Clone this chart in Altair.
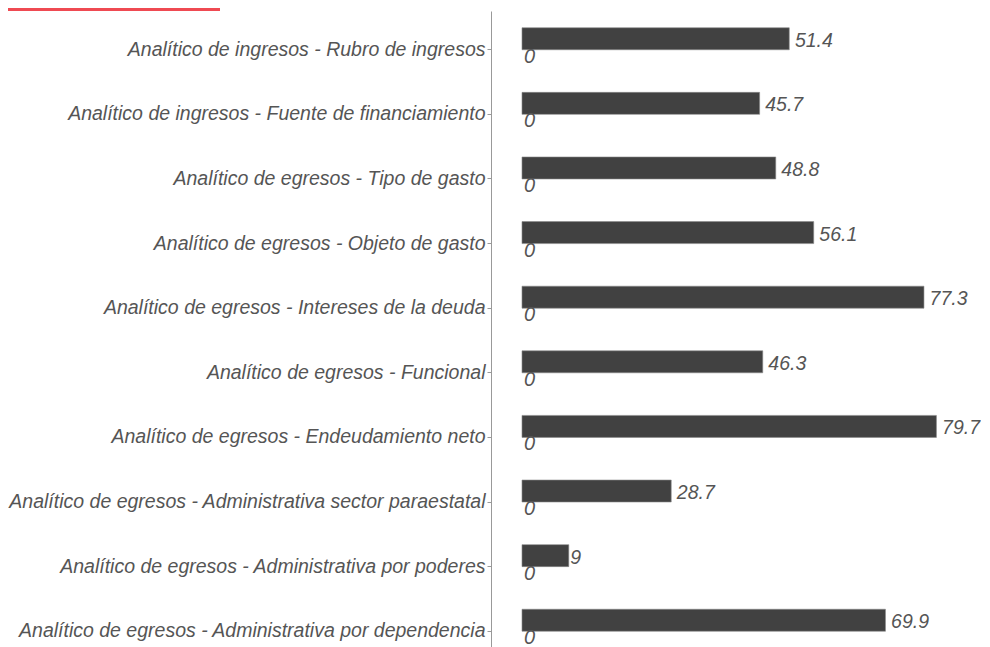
import altair as alt
import pandas as pd

categories = [
    "Analítico de ingresos - Rubro de ingresos",
    "Analítico de ingresos - Fuente de financiamiento",
    "Analítico de egresos - Tipo de gasto",
    "Analítico de egresos - Objeto de gasto",
    "Analítico de egresos - Intereses de la deuda",
    "Analítico de egresos - Funcional",
    "Analítico de egresos - Endeudamiento neto",
    "Analítico de egresos - Administrativa sector paraestatal",
    "Analítico de egresos - Administrativa por poderes",
    "Analítico de egresos - Administrativa por dependencia",
]
values = [51.4, 45.7, 48.8, 56.1, 77.3, 46.3, 79.7, 28.7, 9, 69.9]
zeros = [0] * len(categories)

df = pd.DataFrame({"cat": categories, "value": values, "zero": zeros})

FONT = "Liberation Sans, Arial, sans-serif"
TEXT_COLOR = "#555555"

yenc = alt.Y(
    "cat:N",
    sort=categories,
    title=None,
    scale=alt.Scale(range=[0, 659], paddingOuter=0.1, paddingInner=0),
    axis=alt.Axis(
        labelFont=FONT,
        labelFontSize=19.5,
        labelFontStyle="italic",
        labelColor=TEXT_COLOR,
        labelPadding=2,
        tickSize=4,
        tickColor="#999999",
        domainColor="#999999",
        domainWidth=1,
        labelLimit=600,
        grid=False,
    ),
)
xscale = alt.Scale(domain=[-5.96, 88.27], nice=False, zero=False)

base = alt.Chart(df)

bars = base.mark_bar(
    size=22, yOffset=-11, color="#414141", stroke="#8a8a8a", strokeWidth=0.6
).encode(
    x=alt.X("value:Q", scale=xscale, axis=None),
    x2=alt.X2("zero:Q"),
    y=yenc,
)

labels = base.transform_calculate(
    lx="datum.value + 0.27*length(format(datum.value, '.1~f'))"
).mark_text(
    align="left", baseline="middle", yOffset=-9, fontSize=19.5,
    fontStyle="italic", font=FONT, color=TEXT_COLOR,
).encode(
    x=alt.X("lx:Q", scale=xscale, axis=None),
    y=alt.Y("cat:N", sort=categories),
    text=alt.Text("value:Q", format=".1~f"),
)

zero_labels = base.mark_text(
    align="left", baseline="middle", yOffset=7, dx=2, fontSize=20,
    fontStyle="italic", font=FONT, color=TEXT_COLOR,
).encode(
    x=alt.X("zero:Q", scale=xscale, axis=None),
    y=alt.Y("cat:N", sort=categories),
    text=alt.Text("zero:Q", format=".0f"),
)

red_line = alt.Chart(alt.Data(values=[{"a": 1}])).mark_rule(
    color="#ef4a52", strokeWidth=3
).encode(x=alt.value(-483), x2=alt.value(-271), y=alt.value(-1.5))

chart = alt.layer(bars, labels, zero_labels, red_line).properties(
    width=490,
    height=636,
    autosize=alt.AutoSizeParams(type="none"),
    padding={"left": 483, "top": 3, "right": 0, "bottom": 0},
).configure_view(stroke=None)

chart.save("out.html", embed_options={"renderer": "svg", "actions": False})
